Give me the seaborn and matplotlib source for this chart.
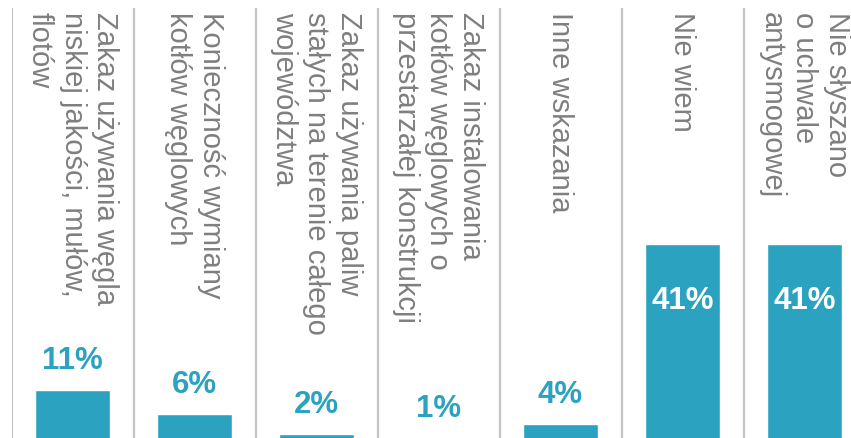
import pandas as pd
import matplotlib
matplotlib.use("Agg")
import matplotlib.pyplot as plt
import seaborn as sns

# dane z wykresu
kategorie = [
    "Zakaz używania węgla\nniskiej jakości, mułów,\nflotów",
    "Konieczność wymiany\nkotłów węglowych",
    "Zakaz używania paliw\nstałych na terenie całego\nwojewództwa",
    "Zakaz instalowania\nkotłów węglowych o\nprzestarzałej konstrukcji",
    "Inne wskazania",
    "Nie wiem",
    "Nie słyszano\no uchwale\nantysmogowej",
]
wartosci = [11, 6, 2, 1, 4, 41, 41]

TEAL = "#2ba2bf"
GRAY_TXT = "#7f7f7f"

sns.set_style("white")
plt.rcParams["font.family"] = ["Liberation Sans", "DejaVu Sans"]

df = pd.DataFrame({"kat": kategorie, "val": wartosci})

fig = plt.figure(figsize=(8.51, 4.38), dpi=100)
# osie wychodza lekko poza prawa krawedz (ostatnia kolumna jest ucieta)
ax = fig.add_axes([11.5 / 851, -5.5 / 438, 854 / 851, 435.5 / 438])

sns.barplot(data=df, x="kat", y="val", color=TEAL, width=0.62,
            saturation=1, ax=ax)

ax.set_xlim(-0.5, 6.5)
ax.set_ylim(0, 89.4)

# pionowe separatory kolumn
for i in range(len(kategorie)):
    ax.axvline(i - 0.5, color="#c4c4c4", lw=1.6, zorder=0)

# etykiety kategorii (obrocone)
for i, txt in enumerate(kategorie):
    ax.text(i, 88.6, txt, rotation=270, ha="center", va="top",
            fontsize=21, color=GRAY_TXT, linespacing=1.2,
            multialignment="left")

# wartosci procentowe
for i, v in enumerate(wartosci):
    if v > 20:
        ax.text(i, v - 11.7, f"{v}%", ha="center", va="center",
                fontsize=22.5, fontweight="bold", color="white")
    else:
        ax.text(i, v + 6, f"{v}%", ha="center", va="center",
                fontsize=22.5, fontweight="bold", color=TEAL)

ax.set_xlabel("")
ax.set_ylabel("")
ax.set_xticks([])
ax.set_yticks([])
sns.despine(ax=ax, left=True, bottom=True)

fig.savefig("out.png", dpi=100)
